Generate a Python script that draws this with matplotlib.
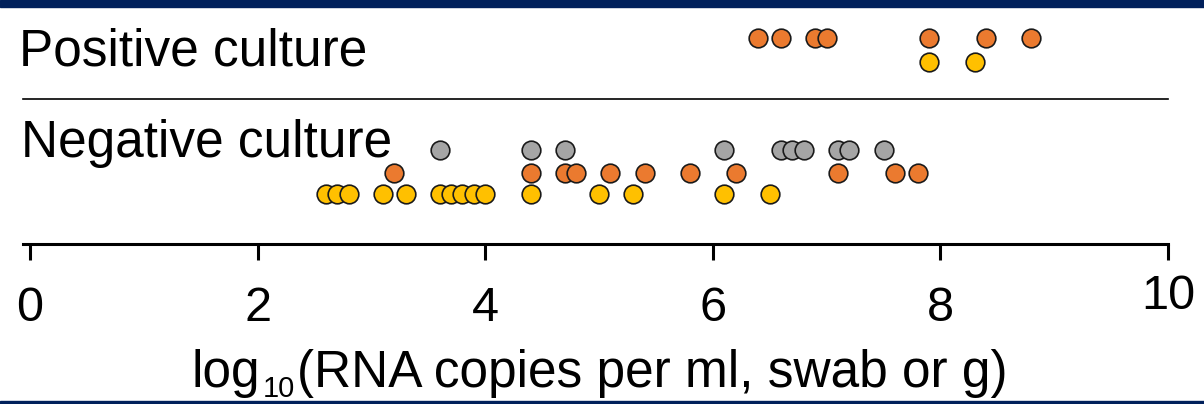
import matplotlib.pyplot as plt
from matplotlib.patches import Rectangle
from matplotlib.transforms import ScaledTranslation

plt.rcParams['font.family'] = ['Liberation Sans', 'DejaVu Sans']

# data (log10 RNA copies)
group_labels = ["Positive culture", "Negative culture"]
pos_orange = [6.4, 6.6, 6.9, 7.0, 7.9, 8.4, 8.8]
pos_yellow = [7.9, 8.3]
neg_gray = [3.6, 4.4, 4.7, 6.1, 6.6, 6.7, 6.8, 7.1, 7.2, 7.5]
neg_orange = [3.2, 4.4, 4.7, 4.8, 5.1, 5.4, 5.8, 6.2, 7.1, 7.6, 7.8]
neg_yellow = [2.6, 2.7, 2.8, 3.1, 3.3, 3.6, 3.7, 3.8, 3.9, 4.0, 4.4,
              5.0, 5.3, 6.1, 6.5]
x_ticks = [0, 2, 4, 6, 8, 10]
x_label_parts = ["log", "10", "(RNA copies per ml, swab or g)"]

orange = '#EB7A2F'
yellow = '#FFC000'
gray = '#A5A5A5'
navy = '#00205B'

W, H = 1204, 404
fig = plt.figure(figsize=(W / 100, H / 100), dpi=100)
# y axis in pixel rows from the top, x axis in data units
ax = fig.add_axes([30 / W, 0, 1138 / W, 1])
ax.set_xlim(0, 10)
ax.set_ylim(H, 0)

rows = [
    (pos_orange, 38, orange),
    (pos_yellow, 62, yellow),
    (neg_gray, 150, gray),
    (neg_orange, 173, orange),
    (neg_yellow, 194, yellow),
]
for vals, y, col in rows:
    ax.scatter(vals, [y] * len(vals), s=180, c=col, edgecolors='#1a1a1a',
               linewidths=1.2, zorder=3, clip_on=False)

fs = 37
ax.text(-0.1, 65, group_labels[0], fontsize=fs, va='baseline')
ax.text(-0.08, 157, group_labels[1], fontsize=fs, va='baseline')
ax.plot([-0.06, 10], [99, 99], color='black', lw=1.2, clip_on=False)

# axis
for side in ['left', 'right', 'top']:
    ax.spines[side].set_visible(False)
ax.spines['bottom'].set_position(('data', 244))
ax.spines['bottom'].set_bounds(-0.06, 10)
ax.spines['bottom'].set_linewidth(2.2)
ax.set_yticks([])
ax.set_xticks(x_ticks)
ax.set_xticklabels([str(t) for t in x_ticks])
ax.tick_params(axis='x', direction='out', length=11.5, width=2.2, pad=19,
               labelsize=35)
last = ax.get_xticklabels()[-1]
last.set_transform(last.get_transform()
                   + ScaledTranslation(0, 0.12, fig.dpi_scale_trans))

# x label built from pieces so the subscript sits low like the original
renderer = fig.canvas.get_renderer()
x0, base = 191, 387
t1 = fig.text(x0 / W, 1 - base / H, x_label_parts[0], fontsize=fs,
              va='baseline')
x1 = t1.get_window_extent(renderer).x1 + 3
t2 = fig.text(x1 / W, 1 - 397 / H, x_label_parts[1], fontsize=21,
              va='baseline')
x2 = t2.get_window_extent(renderer).x1 + 2
fig.text(x2 / W, 1 - base / H, x_label_parts[2], fontsize=fs,
         va='baseline')

# dark bands at top and bottom edge
fig.add_artist(Rectangle((0, 1 - 7 / H), 1, 7 / H, transform=fig.transFigure,
                         color=navy, zorder=10))
fig.add_artist(Rectangle((0, 0), 1, 3 / H, transform=fig.transFigure,
                         color=navy, zorder=10))

fig.savefig('out.png', dpi=100)
